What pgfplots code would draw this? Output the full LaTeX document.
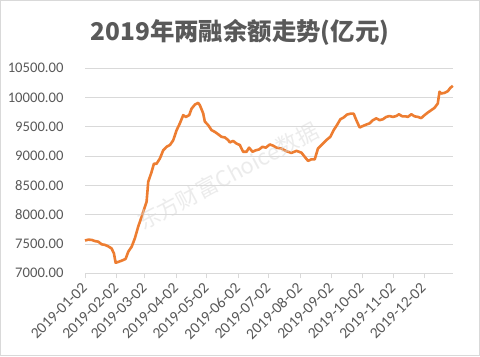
\documentclass[border=0pt]{standalone}
\usepackage{fontspec}
\usepackage{pgfplots}
\pgfplotsset{compat=1.18}
\setmainfont{Carlito}
\newfontfamily\cjk{Noto Sans CJK SC}
\definecolor{txt}{HTML}{595959}
\definecolor{grd}{HTML}{D9D9D9}
\definecolor{org}{HTML}{ED7D31}
\pgfplotstableread{
d v
2 7560
5.3 7575
8.6 7570
11.8 7550
15.1 7540
18.4 7495
21.7 7485
24.9 7460
28.2 7425
30.5 7340
32.2 7180
34.8 7195
38.1 7215
42 7245
44.7 7370
48 7455
51.2 7600
54.5 7800
57.8 7965
61.1 8140
62.7 8220
64.3 8560
67.6 8730
69.9 8870
72.5 8870
75.8 8960
79.1 9100
82.4 9160
85.7 9190
88.9 9270
92.2 9440
95.5 9560
98.8 9700
101.4 9670
104.7 9700
107 9810
110.3 9880
113.5 9910
115.2 9870
118.5 9730
120.1 9590
123.4 9530
126.7 9445
129.9 9415
133.2 9375
136.5 9330
139.8 9320
143.1 9275
144.7 9235
148 9260
151.3 9215
154.6 9190
157.8 9075
161.2 9075
163.7 9145
167.1 9075
170.3 9100
173.6 9115
176.9 9160
180.2 9145
184.1 9200
187.3 9180
190.7 9145
195.6 9130
200.5 9085
205.4 9055
210.4 9090
215.3 9060
218.5 8990
221.8 8920
225.1 8945
228.4 8945
231.6 9130
235 9190
239.9 9275
243.8 9330
247.1 9445
250.3 9530
253.7 9630
256.9 9660
260.2 9710
263.5 9725
266.8 9725
269.4 9615
272.7 9490
275.9 9515
279.3 9540
282.5 9560
285.8 9615
289.1 9645
292.4 9615
295.6 9630
298.9 9670
302.2 9685
305.4 9670
308.8 9685
311.4 9715
314.7 9680
318 9680
320.2 9670
323.6 9715
326.8 9680
330.1 9670
333.4 9650
336.6 9700
339.9 9745
343.2 9785
346.5 9825
349.7 9900
351.4 10100
353.1 10070
356.3 10080
359.6 10110
362 10165
364.5 10200
}\margin
\begin{document}
\begin{tikzpicture}[x=1bp,y=1bp]
\useasboundingbox (0,0) rectangle (480,356);
\fill[white] (0,0) rectangle (480,356);
\draw[grd, line width=1bp] (0.5,0.5) rectangle (479.5,355.5);
\node[font=\cjk\bfseries\fontsize{24.5}{24.5}\selectfont, text=txt] at (240,324) {2019年两融余额走势(亿元)};
\begin{axis}[
  at={(85bp,82.7bp)}, anchor=south west,
  scale only axis, width=368.3bp, height=205bp,
  xmin=2, xmax=365, ymin=7000, ymax=10500,
  axis x line*=bottom, axis y line*=left,
  y axis line style={draw=none},
  x axis line style={grd, line width=0.75bp},
  ymajorgrids, grid style={grd, line width=0.75bp},
  scaled y ticks=false,
  ytick={7000,7500,...,10500},
  yticklabels={7000.00,7500.00,8000.00,8500.00,9000.00,9500.00,10000.00,10500.00},
  ytick style={draw=none},
  yticklabel style={anchor=east, xshift=-13bp, font=\fontsize{14.7}{14.7}\selectfont, text=txt},
  xtick={2,33,61,92,122,153,183,214,245,275,306,336},
  xticklabels={2019-01-02,2019-02-02,2019-03-02,2019-04-02,2019-05-02,2019-06-02,2019-07-02,2019-08-02,2019-09-02,2019-10-02,2019-11-02,2019-12-02},
  tick align=outside, major tick length=5bp,
  xtick style={grd, line width=0.75bp},
  xticklabel style={xshift=-0.5bp, yshift=-7bp, rotate=45, anchor=east, inner sep=0pt, font=\fontsize{15.5}{15.5}\selectfont, text=txt},
  clip=false,
]
\addplot[org, line width=2.6bp, line join=round] table[x=d, y=v] {\margin};
\end{axis}
\node[font=\cjk\fontsize{22}{22}\selectfont, text=grd, text opacity=0.5, rotate=28] at (228,180) {东方财富Choice数据};
\end{tikzpicture}
\end{document}
